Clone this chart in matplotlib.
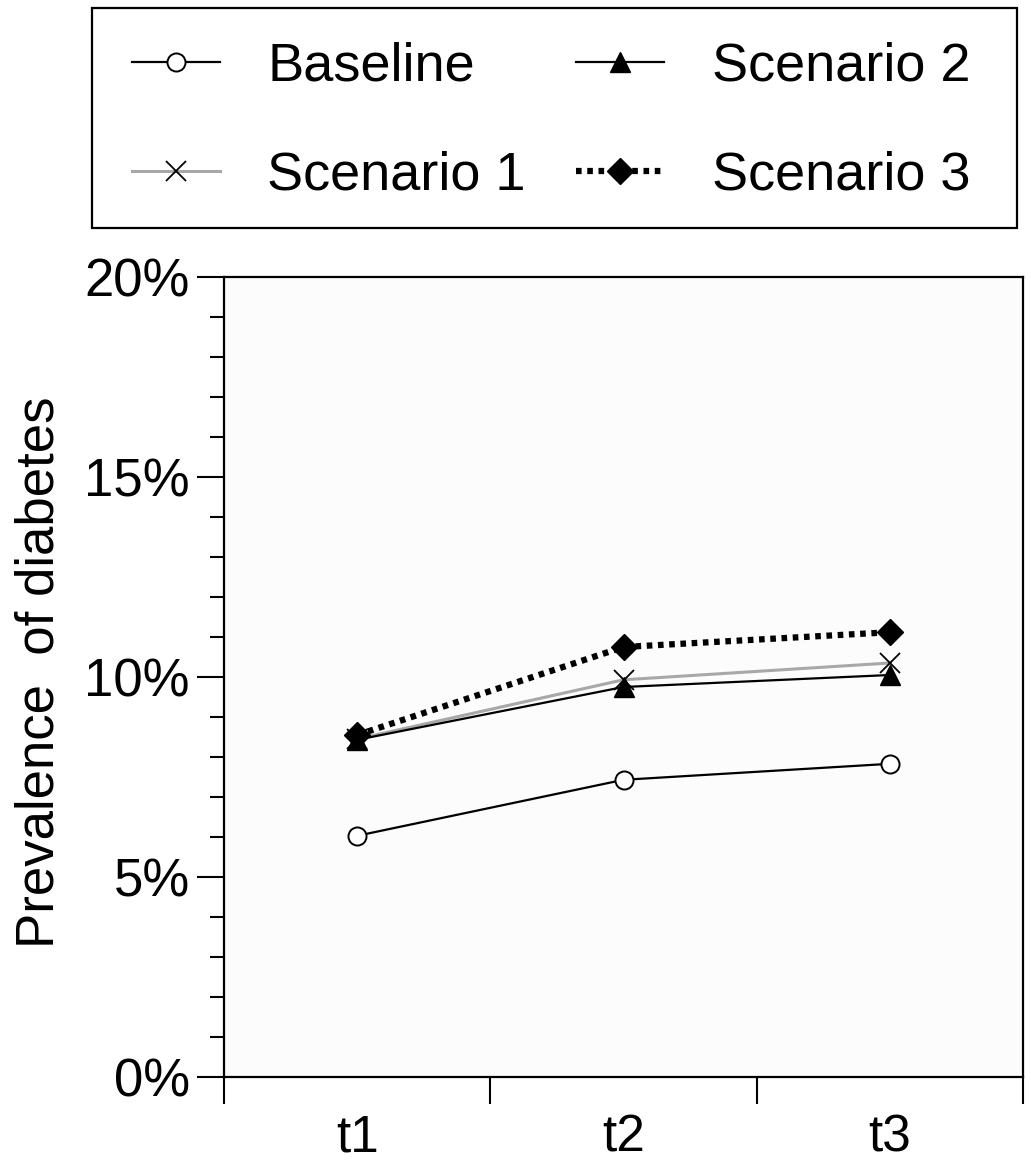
import matplotlib
matplotlib.use("Agg")
import matplotlib.pyplot as plt
from matplotlib.patches import Rectangle
from matplotlib.ticker import MultipleLocator, FixedLocator, FuncFormatter

plt.rcParams['font.family'] = ['Liberation Sans', 'DejaVu Sans']

categories = ["t1", "t2", "t3"]
baseline = [6.03, 7.43, 7.83]
scenario1 = [8.45, 9.93, 10.35]
scenario2 = [8.43, 9.75, 10.05]
scenario3 = [8.55, 10.75, 11.12]
y_ticks = [0, 5, 10, 15, 20]
y_tick_labels = ["0%", "5%", "10%", "15%", "20%"]

W, H = 1031, 1162
fig = plt.figure(figsize=(W / 100, H / 100), dpi=100)
ax = fig.add_axes([224 / W, 1 - 1077 / H, (1023 - 224) / W, (1077 - 277) / H])
ax.set_facecolor('#fcfcfc')

xpos = [i + 0.5 for i in range(len(categories))]

l0, = ax.plot(xpos, baseline, color='black', lw=1.6, marker='o', ms=13,
              mfc='white', mec='black', mew=1.4, label='Baseline', zorder=3)
l1, = ax.plot(xpos, scenario1, color='#a8a8a8', lw=2.2, marker='x', ms=14,
              mec='black', mew=1.3, label='Scenario 1', zorder=2)
l2, = ax.plot(xpos, scenario2, color='black', lw=1.6, marker='^', ms=15,
              mfc='black', mec='black', label='Scenario 2', zorder=4)
l3, = ax.plot(xpos, scenario3, color='black', lw=4.5, ls=(0, (0.9, 0.9)),
              marker='D', ms=13, mfc='black', mec='black',
              label='Scenario 3', zorder=5)

ax.set_xlim(0, 3)
ax.set_ylim(0, 20)

ax.xaxis.set_major_locator(FixedLocator([0, 1, 2, 3]))
ax.xaxis.set_major_formatter(FuncFormatter(lambda v, p: ""))
ax.xaxis.set_minor_locator(FixedLocator(xpos))
ax.set_xticklabels(categories, minor=True)
ax.tick_params(axis='x', which='major', direction='out', length=19.5, width=1.5)
ax.tick_params(axis='x', which='minor', length=0, labelsize=37, pad=26)

ax.yaxis.set_major_locator(FixedLocator(y_ticks))
ax.set_yticklabels(y_tick_labels)
ax.yaxis.set_minor_locator(MultipleLocator(1))
ax.tick_params(axis='y', which='major', direction='out', length=19.5, width=1.5,
               labelsize=38, pad=5)
ax.tick_params(axis='y', which='minor', direction='out', length=10, width=1.5)

for s in ax.spines.values():
    s.set_linewidth(1.6)

fig.text(40 / W, 1 - 672 / H, "Prevalence  of diabetes", rotation=90,
         ha='center', va='center', fontsize=38)

# legend frame drawn separately
fig.patches.append(Rectangle((92 / W, 1 - 228 / H), (1017 - 92) / W, 220 / H,
                             transform=fig.transFigure, fill=False,
                             edgecolor='black', linewidth=1.6))

leg = fig.legend(handles=[l0, l1, l2, l3], ncol=2, loc='center',
                 bbox_to_anchor=(551 / W, 1 - 121 / H),
                 fontsize=39, frameon=False,
                 handlelength=1.63, handletextpad=0.87, columnspacing=0.93,
                 borderpad=0, labelspacing=1.09, borderaxespad=0)

fig.savefig("out.png", dpi=100)
